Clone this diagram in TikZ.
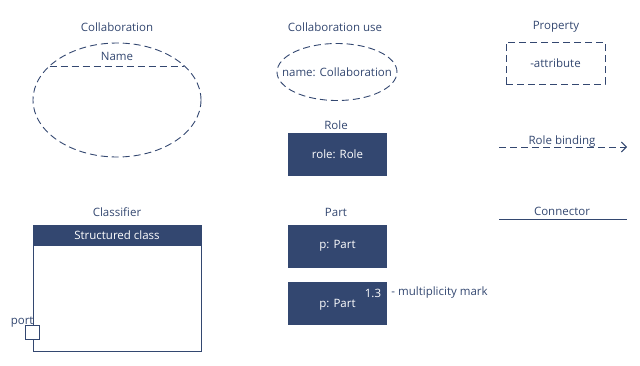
\documentclass[tikz,border=0pt]{standalone}
\usepackage{fontspec}
\setmainfont{Open Sans}
\usepackage{xcolor}
\usepackage{tikz}
\usetikzlibrary{arrows.meta,positioning,calc,shapes.geometric}
\definecolor{umlblue}{RGB}{51,71,112}

\begin{document}
\begin{tikzpicture}[x=1pt,y=-1pt,font=\fontsize{11.5}{13}\selectfont,text=umlblue,line width=0.9pt,
  title/.style={inner sep=0pt},
  dsh/.style={draw=umlblue,dash pattern=on 7pt off 4pt},
  solidbox/.style={fill=umlblue,text=white,minimum width=99pt,minimum height=43pt,inner sep=0pt}]
\useasboundingbox (0,0) rectangle (640,365);
% collaboration
\node[title] (tcol) at (117,27) {Collaboration};
\node[ellipse,dsh,minimum width=168pt,minimum height=114pt] (collab) at (117,100) {};
\coordinate (chl) at ($(collab.center)+(-67.4,-34)$);
\coordinate (chr) at ($(collab.center)+(67.4,-34)$);
\draw[dsh] (chl) -- (chr);
\node[title] (cname) at (117,56) {Name};
% collaboration use
\node[title] (tuse) at (335,27) {Collaboration use};
\node[ellipse,dsh,minimum width=120pt,minimum height=57pt,inner sep=0pt] (cuse) at (337,72) {};
\node[title] (cusetxt) at (cuse.center) {name: Collaboration};
% role
\node[title] (trole) at (336,125) {Role};
\node[solidbox] (role) at (337.5,154.5) {role: Role};
% property
\node[title] (tprop) at (556,27) {Property};
\node[dsh,minimum width=99pt,minimum height=42pt] (prop) at (555.5,63) {-attribute};
% role binding
\coordinate (rba) at (499,147);
\coordinate (rbb) at (627,147);
\draw[dsh,-{Straight Barb[length=5pt,width=10pt]}] (rba) -- (rbb);
\node[title,anchor=base] (trb) at (562,144.5) {Role binding};
% connector
\coordinate (cna) at (499,219);
\coordinate (cnb) at (627,219);
\draw[umlblue] (cna) -- (cnb);
\node[title,anchor=base] (tcn) at (562,215.5) {Connector};
% classifier
\node[title] (tcls) at (117,212) {Classifier};
\node[draw=umlblue,minimum width=168pt,minimum height=126pt,inner sep=0pt] (cls) at (117,288) {};
\node[solidbox,anchor=north,minimum width=168pt,minimum height=21pt] (clshead) at (cls.north) {Structured class};
\node[draw=umlblue,fill=white,minimum size=14pt,inner sep=0pt] (port) at (32,332) {};
\node[title,anchor=base east] (tport) at (34,324) {port};
% parts
\node[title] (tpart) at (336,212) {Part};
\node[solidbox] (part) at (337.5,246) {p: Part};
\node[solidbox] (partm) at (337.5,303) {};
\node[title,text=white] (partmtxt) at (337.5,305) {p: Part};
\node[title,text=white] (mult) at (373,293) {1.3};
\node[title,anchor=west] (tmult) at (391,293) {- multiplicity mark};
\end{tikzpicture}
\end{document}
